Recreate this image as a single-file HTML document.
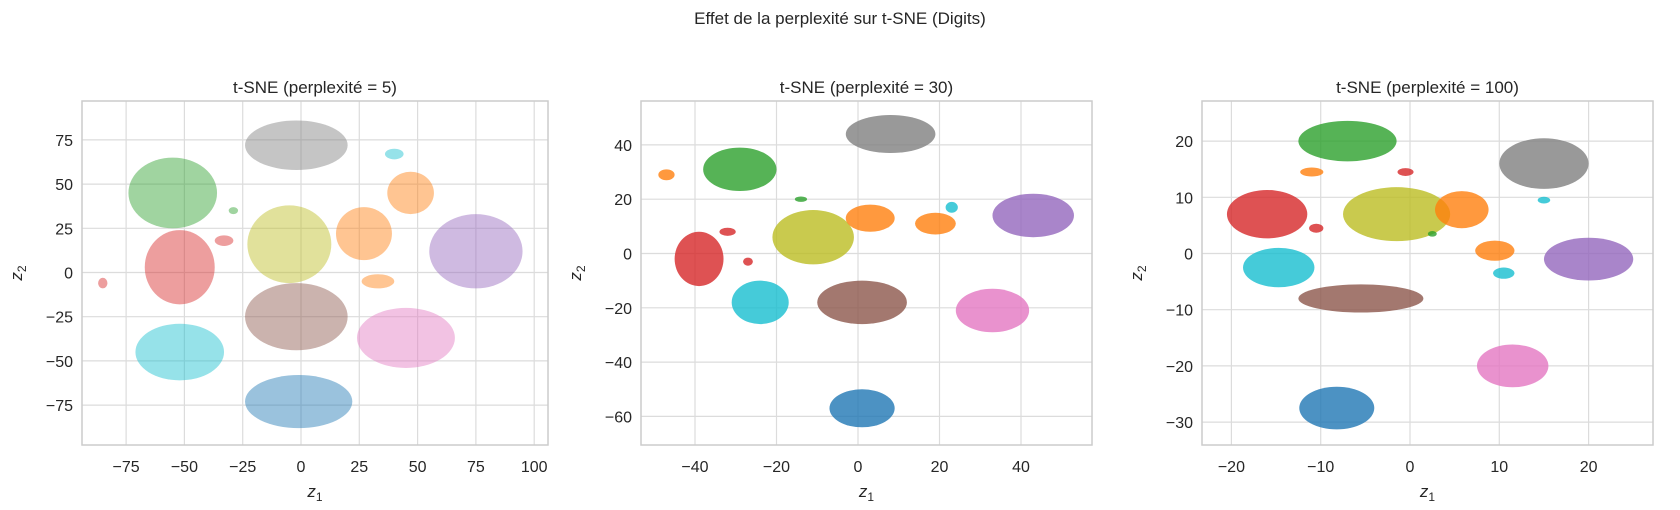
<!DOCTYPE html>
<html><head><meta charset="utf-8">
<style>
html,body{margin:0;padding:0;background:#fff;}
svg{display:block;font-family:"Liberation Sans","DejaVu Sans",sans-serif;}
</style></head>
<body>
<svg id="fig" width="1680" height="510" viewBox="0 0 1680 510" xmlns="http://www.w3.org/2000/svg">
<text x="840" y="24" text-anchor="middle" font-size="17" fill="#262626">Effet de la perplexité sur t-SNE (Digits)</text>
</svg>
<script>
// Cluster labels (digit classes) and tab10 colors
const digitClasses = [0,1,2,3,4,5,6,7,8,9];
const colors = ['#1f77b4','#ff7f0e','#2ca02c','#d62728','#9467bd','#8c564b','#e377c2','#7f7f7f','#bcbd22','#17becf'];

// Panel 1: perplexity 5 — cluster [class, cx, cy, rx, ry]
const p5Clusters = [
 [7,-2,72,22,14],[2,-55,45,19,20],[3,-52,3,15,21],[8,-5,16,18,22],
 [1,27,22,12,15],[1,47,45,10,12],[1,33,-5,7,4],[4,75,12,20,21],
 [5,-2,-25,22,19],[6,45,-37,21,17],[9,-52,-45,19,16],[0,-1,-73,23,15],
 [9,40,67,4,3],[3,-85,-6,2,3],[2,-29,35,2,2],[3,-33,18,4,3]
];
const p5XTicks = [-75,-50,-25,0,25,50,75,100];
const p5YTicks = [75,50,25,0,-25,-50,-75];

// Panel 2: perplexity 30
const p30Clusters = [
 [7,8,44,11,7],[2,-29,31,9,8],[1,-47,29,2,2],[8,-11,6,10,10],
 [1,3,13,6,5],[1,19,11,5,4],[9,23,17,1.5,2],[4,43,14,10,8],
 [3,-39,-2,6,10],[9,-24,-18,7,8],[5,1,-18,11,8],[6,33,-21,9,8],
 [0,1,-57,8,7],[2,-14,20,1.5,1],[3,-27,-3,1.2,1.5],[3,-32,8,2,1.5]
];
const p30XTicks = [-40,-20,0,20,40];
const p30YTicks = [40,20,0,-20,-40,-60];

// Panel 3: perplexity 100
const p100Clusters = [
 [2,-7,20,5.5,3.6],[7,15,16,5,4.5],[3,-16,7,4.5,4.3],[8,-1.5,7,6,4.8],
 [1,5.8,7.8,3,3.3],[1,9.5,0.5,2.2,1.8],[1,-11,14.5,1.3,0.8],[9,-14.7,-2.5,4,3.5],
 [4,20,-1,5,3.8],[5,-5.5,-8,7,2.5],[6,11.5,-20,4,3.8],[0,-8.2,-27.5,4.2,3.8],
 [9,15,9.5,0.7,0.6],[3,-10.5,4.5,0.8,0.8],[3,-0.5,14.5,0.9,0.7],[2,2.5,3.5,0.5,0.5],[9,10.5,-3.5,1.2,1]
];
const p100XTicks = [-20,-10,0,10,20];
const p100YTicks = [20,10,0,-10,-20,-30];

const NS='http://www.w3.org/2000/svg';
const svg=document.getElementById('fig');
function mk(tag,attrs,parent){const e=document.createElementNS(NS,tag);for(const k in attrs)e.setAttribute(k,attrs[k]);(parent||svg).appendChild(e);return e;}

function panel(cfg){
  const g=mk('g',{});
  
  
  const sx=v=>cfg.x0px+(v-cfg.x0)*cfg.xs;
  const sy=v=>cfg.y0px-(v-cfg.y0)*cfg.ys;
  const clip='clip-'+cfg.name;
  const cp=mk('clipPath',{id:clip},g);
  mk('rect',{x:cfg.L,y:cfg.T,width:cfg.R-cfg.L,height:cfg.B-cfg.T},cp);
  cfg.xt.forEach(t=>{
    const l=mk('line',{x1:sx(t),x2:sx(t),y1:cfg.T,y2:cfg.B,stroke:'#dcdcdc','stroke-width':1.2},g);
    
    
    const tx=mk('text',{x:sx(t),y:cfg.B+27,'text-anchor':'middle','font-size':16,fill:'#262626'},g);
    tx.textContent=String(t).replace('-','\u2212');
    
    
  });
  cfg.yt.forEach(t=>{
    const l=mk('line',{x1:cfg.L,x2:cfg.R,y1:sy(t),y2:sy(t),stroke:'#dcdcdc','stroke-width':1.2},g);
    
    
    const tx=mk('text',{x:cfg.L-9,y:sy(t)+6,'text-anchor':'end','font-size':16,fill:'#262626'},g);
    tx.textContent=String(t).replace('-','\u2212');
    
    
  });
  const cg=mk('g',{'clip-path':'url(#'+clip+')'},g);
  cfg.data.forEach(c=>{
    const e=mk('ellipse',{cx:sx(c[1]),cy:sy(c[2]),rx:Math.max(2.5,c[3]*cfg.xs),ry:Math.max(2.5,c[4]*cfg.ys),fill:colors[c[0]],'fill-opacity':cfg.op},cg);
    
    
  });
  const fr=mk('rect',{x:cfg.L,y:cfg.T,width:cfg.R-cfg.L,height:cfg.B-cfg.T,fill:'none',stroke:'#cccccc','stroke-width':1.5},g);
  
  
  const ti=mk('text',{x:(cfg.L+cfg.R)/2,y:93,'text-anchor':'middle','font-size':17,fill:'#262626'},g);
  ti.textContent=cfg.title;
  
  
  const xl=mk('text',{x:(cfg.L+cfg.R)/2,y:497,'text-anchor':'middle','font-size':17,'font-style':'italic',fill:'#262626'},g);
  xl.innerHTML='z<tspan font-size="12" dy="4" font-style="normal">1</tspan>';
  
  
  const yx=cfg.L-60, yy=(cfg.T+cfg.B)/2;
  const yl=mk('text',{x:yx,y:yy,'text-anchor':'middle','font-size':17,'font-style':'italic',fill:'#262626',transform:'rotate(-90 '+yx+' '+yy+')'},g);
  yl.innerHTML='z<tspan font-size="12" dy="4" font-style="normal">2</tspan>';
  
  
}

panel({name:'panel-perplexity-5',title:'t-SNE (perplexité = 5)',L:82,R:548,T:101,B:445,x0:0,x0px:301,xs:58.3/25,y0:0,y0px:272.5,ys:44.2/25,xt:p5XTicks,yt:p5YTicks,data:p5Clusters,op:0.45});
panel({name:'panel-perplexity-30',title:'t-SNE (perplexité = 30)',L:641,R:1092,T:101,B:445,x0:0,x0px:858,xs:81.5/20,y0:0,y0px:253.5,ys:54.3/20,xt:p30XTicks,yt:p30YTicks,data:p30Clusters,op:0.8});
panel({name:'panel-perplexity-100',title:'t-SNE (perplexité = 100)',L:1202,R:1653,T:101,B:445,x0:0,x0px:1410,xs:89.3/10,y0:0,y0px:253.5,ys:56.2/10,xt:p100XTicks,yt:p100YTicks,data:p100Clusters,op:0.8});
</script>
</body></html>
